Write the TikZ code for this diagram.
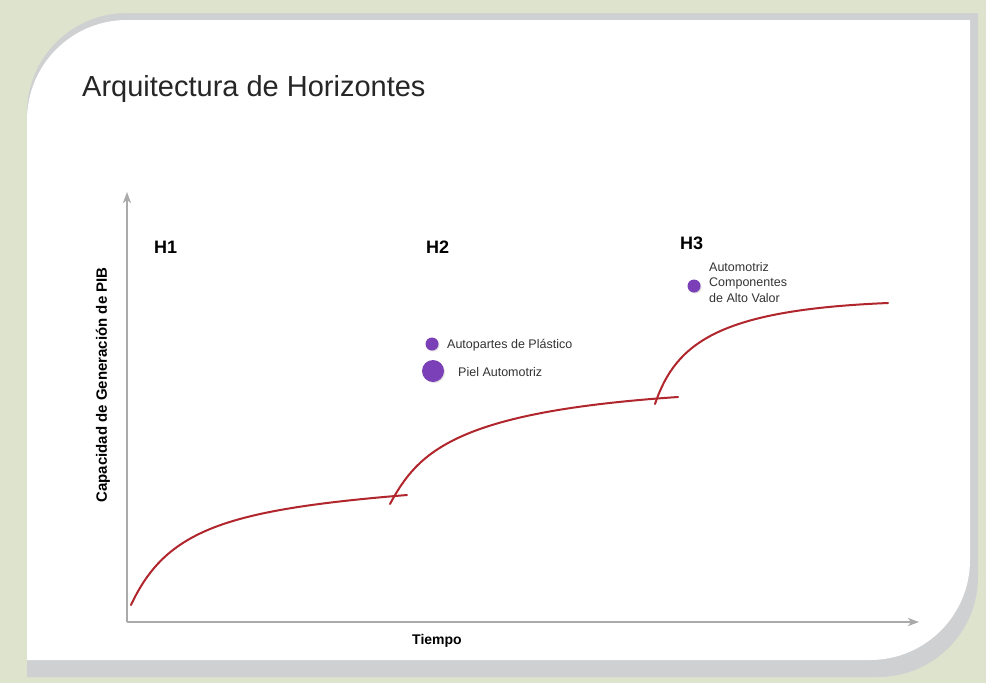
\documentclass[tikz,border=0pt]{standalone}
\usepackage{fontspec}
\setmainfont{Liberation Sans}
\usetikzlibrary{arrows.meta,shadows}

\definecolor{bggreen}{RGB}{221,227,205}
\definecolor{panelshadow}{RGB}{207,208,210}
\definecolor{axisgray}{RGB}{170,170,170}
\definecolor{curvered}{RGB}{176,38,44}
\definecolor{dotpurple}{RGB}{123,63,184}

\begin{document}
\begin{tikzpicture}[
    x=1pt, y=-1pt,
    axis/.style={draw=axisgray, line width=2pt,
      -{Stealth[length=11pt,width=8pt,inset=3pt]}},
    curve/.style={draw=curvered, line width=2pt, line cap=round},
    hlabel/.style={font=\fontsize{18}{20}\selectfont\bfseries, anchor=base west, inner sep=0pt},
    axlabel/.style={font=\fontsize{14}{16}\selectfont\bfseries, inner sep=0pt},
    item/.style={font=\fontsize{12.5}{15.5}\selectfont, color=black!80, anchor=west, inner sep=0pt},
    dot/.style={circle, fill=dotpurple, inner sep=0pt,
      drop shadow={shadow xshift=1pt, shadow yshift=-1pt, opacity=0.25}},
    smalldot/.style={dot, minimum size=13pt},
    bigdot/.style={dot, minimum size=22pt}
  ]

% --- background and panel ---
  \useasboundingbox (0,0) rectangle (986,683);
  \fill[bggreen] (0,0) rectangle (986,683);
  \fill[panelshadow] (27,113) .. controls (27,57.8) and (71.8,13) .. (127,13)
    -- (978,13) -- (978,577) .. controls (978,632.2) and (933.2,677) .. (878,677)
    -- (27,677) -- cycle;
  \fill[white] (27,120) .. controls (27,64.8) and (71.8,20) .. (127,20)
    -- (970,20) -- (970,560) .. controls (970,615.2) and (925.2,660) .. (870,660)
    -- (27,660) -- cycle;

% --- title ---
  \node[font=\fontsize{29}{32}\selectfont, color=black!85, anchor=base west, inner sep=0pt]
    (title) at (82,96) {Arquitectura de Horizontes};

% --- axes ---
  \coordinate (origin) at (127,622);
  \coordinate (ytip) at (127,192);
  \coordinate (xtip) at (919,622);
  \draw[axis] (origin) -- (ytip);
  \draw[axis] (origin) -- (xtip);
  \node[axlabel, font=\fontsize{15}{17}\selectfont\bfseries, rotate=90] (ylab) at (103,385)
    {Capacidad de Generación de PIB};
  \node[axlabel] (xlab) at (437,641) {Tiempo};

% --- horizons ---
  \node[hlabel] (h1) at (154,253) {H1};
  \node[hlabel] (h2) at (426,253) {H2};
  \node[hlabel] (h3) at (680,249) {H3};

% --- growth curves ---
  \draw[curve] (131,605) .. controls (166,530) and (225,510) .. (407,495);
  \draw[curve] (390,504) .. controls (418,452) and (455,412) .. (678,397);
  \draw[curve] (655,404) .. controls (676,342) and (720,310) .. (888,303);

% --- businesses ---
  \node[smalldot] (plastico) at (432,344) {};
  \node[item] (plasticolab) at (447,345) {Autopartes de Plástico};
  \node[bigdot] (piel) at (433,371) {};
  \node[item] (piellab) at (458,372) {Piel Automotriz};
  \node[smalldot] (altovalor) at (694,286) {};
  \node[item, anchor=north west, align=left] (altovalorlab) at (709,262)
    {Automotriz\\Componentes\\de Alto Valor};

\end{tikzpicture}
\end{document}
